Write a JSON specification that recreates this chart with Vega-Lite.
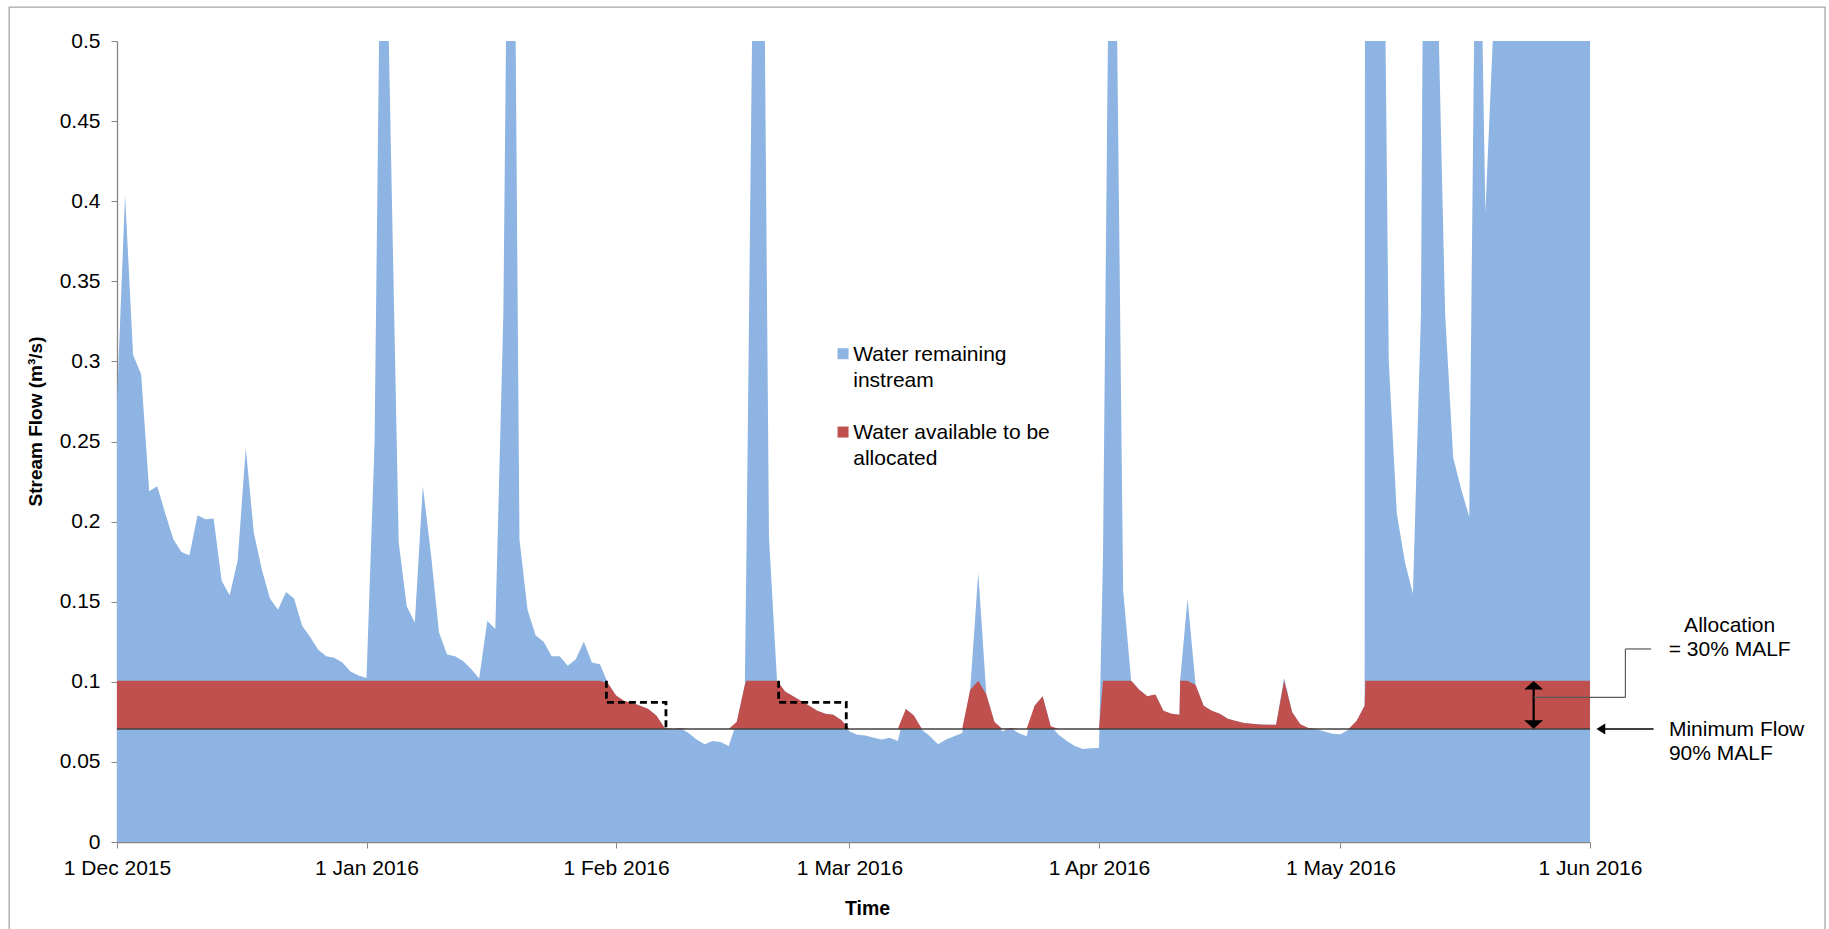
{
  "$schema": "https://vega.github.io/schema/vega-lite/v6.json",
  "width": 1473,
  "height": 801,
  "autosize": {"type": "none"},
  "padding": {"left": 117, "top": 41, "right": 239, "bottom": 87},
  "background": "white",
  "config": {
    "view": {"stroke": null},
    "font": "Liberation Sans",
    "axis": {"labelFont": "Liberation Sans", "titleFont": "Liberation Sans", "labelColor": "#000000", "titleColor": "#000000", "grid": false}
  },
  "data": {
    "values": [
      {"date": "2015-12-01T00:00", "flow": 0.275, "alloc": 0.1006},
      {"date": "2015-12-02T00:00", "flow": 0.404, "alloc": 0.1006},
      {"date": "2015-12-03T00:00", "flow": 0.304, "alloc": 0.1006},
      {"date": "2015-12-04T00:00", "flow": 0.292, "alloc": 0.1006},
      {"date": "2015-12-05T00:00", "flow": 0.219, "alloc": 0.1006},
      {"date": "2015-12-06T00:00", "flow": 0.222, "alloc": 0.1006},
      {"date": "2015-12-07T00:00", "flow": 0.205, "alloc": 0.1006},
      {"date": "2015-12-08T00:00", "flow": 0.189, "alloc": 0.1006},
      {"date": "2015-12-09T00:00", "flow": 0.181, "alloc": 0.1006},
      {"date": "2015-12-10T00:00", "flow": 0.179, "alloc": 0.1006},
      {"date": "2015-12-11T00:00", "flow": 0.204, "alloc": 0.1006},
      {"date": "2015-12-12T00:00", "flow": 0.2015, "alloc": 0.1006},
      {"date": "2015-12-13T00:00", "flow": 0.202, "alloc": 0.1006},
      {"date": "2015-12-14T00:00", "flow": 0.163, "alloc": 0.1006},
      {"date": "2015-12-15T00:00", "flow": 0.154, "alloc": 0.1006},
      {"date": "2015-12-16T00:00", "flow": 0.176, "alloc": 0.1006},
      {"date": "2015-12-17T00:00", "flow": 0.246, "alloc": 0.1006},
      {"date": "2015-12-18T00:00", "flow": 0.193, "alloc": 0.1006},
      {"date": "2015-12-19T00:00", "flow": 0.17, "alloc": 0.1006},
      {"date": "2015-12-20T00:00", "flow": 0.152, "alloc": 0.1006},
      {"date": "2015-12-21T00:00", "flow": 0.145, "alloc": 0.1006},
      {"date": "2015-12-22T00:00", "flow": 0.156, "alloc": 0.1006},
      {"date": "2015-12-23T00:00", "flow": 0.152, "alloc": 0.1006},
      {"date": "2015-12-24T00:00", "flow": 0.135, "alloc": 0.1006},
      {"date": "2015-12-25T00:00", "flow": 0.128, "alloc": 0.1006},
      {"date": "2015-12-26T00:00", "flow": 0.12, "alloc": 0.1006},
      {"date": "2015-12-27T00:00", "flow": 0.116, "alloc": 0.1006},
      {"date": "2015-12-28T00:00", "flow": 0.115, "alloc": 0.1006},
      {"date": "2015-12-29T00:00", "flow": 0.112, "alloc": 0.1006},
      {"date": "2015-12-30T00:00", "flow": 0.1065, "alloc": 0.1006},
      {"date": "2015-12-31T00:00", "flow": 0.104, "alloc": 0.1006},
      {"date": "2016-01-01T00:00", "flow": 0.1024, "alloc": 0.1006},
      {"date": "2016-01-02T00:00", "flow": 0.25, "alloc": 0.1006},
      {"date": "2016-01-03T00:00", "flow": 0.7, "alloc": 0.1006},
      {"date": "2016-01-04T00:00", "flow": 0.44, "alloc": 0.1006},
      {"date": "2016-01-05T00:00", "flow": 0.187, "alloc": 0.1006},
      {"date": "2016-01-06T00:00", "flow": 0.147, "alloc": 0.1006},
      {"date": "2016-01-07T00:00", "flow": 0.137, "alloc": 0.1006},
      {"date": "2016-01-08T00:00", "flow": 0.222, "alloc": 0.1006},
      {"date": "2016-01-09T00:00", "flow": 0.18, "alloc": 0.1006},
      {"date": "2016-01-10T00:00", "flow": 0.131, "alloc": 0.1006},
      {"date": "2016-01-11T00:00", "flow": 0.117, "alloc": 0.1006},
      {"date": "2016-01-12T00:00", "flow": 0.116, "alloc": 0.1006},
      {"date": "2016-01-13T00:00", "flow": 0.113, "alloc": 0.1006},
      {"date": "2016-01-14T00:00", "flow": 0.108, "alloc": 0.1006},
      {"date": "2016-01-15T00:00", "flow": 0.102, "alloc": 0.1006},
      {"date": "2016-01-16T00:00", "flow": 0.138, "alloc": 0.1006},
      {"date": "2016-01-17T00:00", "flow": 0.133, "alloc": 0.1006},
      {"date": "2016-01-18T00:00", "flow": 0.33, "alloc": 0.1006},
      {"date": "2016-01-19T00:00", "flow": 0.85, "alloc": 0.1006},
      {"date": "2016-01-20T00:00", "flow": 0.189, "alloc": 0.1006},
      {"date": "2016-01-21T00:00", "flow": 0.145, "alloc": 0.1006},
      {"date": "2016-01-22T00:00", "flow": 0.129, "alloc": 0.1006},
      {"date": "2016-01-23T00:00", "flow": 0.125, "alloc": 0.1006},
      {"date": "2016-01-24T00:00", "flow": 0.116, "alloc": 0.1006},
      {"date": "2016-01-25T00:00", "flow": 0.116, "alloc": 0.1006},
      {"date": "2016-01-26T00:00", "flow": 0.11, "alloc": 0.1006},
      {"date": "2016-01-27T00:00", "flow": 0.114, "alloc": 0.1006},
      {"date": "2016-01-28T00:00", "flow": 0.125, "alloc": 0.1006},
      {"date": "2016-01-29T00:00", "flow": 0.112, "alloc": 0.1006},
      {"date": "2016-01-30T00:00", "flow": 0.111, "alloc": 0.1006},
      {"date": "2016-01-31T00:00", "flow": 0.099, "alloc": 0.099},
      {"date": "2016-02-01T00:00", "flow": 0.0915, "alloc": 0.0915},
      {"date": "2016-02-02T00:00", "flow": 0.088, "alloc": 0.088},
      {"date": "2016-02-03T00:00", "flow": 0.087, "alloc": 0.087},
      {"date": "2016-02-04T00:00", "flow": 0.085, "alloc": 0.085},
      {"date": "2016-02-05T00:00", "flow": 0.083, "alloc": 0.083},
      {"date": "2016-02-06T00:00", "flow": 0.079, "alloc": 0.079},
      {"date": "2016-02-07T00:00", "flow": 0.0715, "alloc": 0.0715},
      {"date": "2016-02-08T00:00", "flow": 0.0705, "alloc": 0.0706},
      {"date": "2016-02-09T00:00", "flow": 0.0712, "alloc": 0.0712},
      {"date": "2016-02-10T00:00", "flow": 0.068, "alloc": 0.0706},
      {"date": "2016-02-11T00:00", "flow": 0.064, "alloc": 0.0706},
      {"date": "2016-02-12T00:00", "flow": 0.061, "alloc": 0.0706},
      {"date": "2016-02-13T00:00", "flow": 0.063, "alloc": 0.0706},
      {"date": "2016-02-14T00:00", "flow": 0.0625, "alloc": 0.0706},
      {"date": "2016-02-15T00:00", "flow": 0.06, "alloc": 0.0706},
      {"date": "2016-02-16T00:00", "flow": 0.075, "alloc": 0.075},
      {"date": "2016-02-17T00:00", "flow": 0.098, "alloc": 0.098},
      {"date": "2016-02-17T04:48", "flow": 0.18, "alloc": 0.1006},
      {"date": "2016-02-18T00:00", "flow": 0.55, "alloc": 0.1006},
      {"date": "2016-02-19T00:00", "flow": 0.8, "alloc": 0.1006},
      {"date": "2016-02-20T00:00", "flow": 0.19, "alloc": 0.1006},
      {"date": "2016-02-21T00:00", "flow": 0.1006, "alloc": 0.1006},
      {"date": "2016-02-22T00:00", "flow": 0.094, "alloc": 0.094},
      {"date": "2016-02-23T00:00", "flow": 0.091, "alloc": 0.091},
      {"date": "2016-02-24T00:00", "flow": 0.088, "alloc": 0.088},
      {"date": "2016-02-25T00:00", "flow": 0.085, "alloc": 0.085},
      {"date": "2016-02-26T00:00", "flow": 0.082, "alloc": 0.082},
      {"date": "2016-02-27T00:00", "flow": 0.08, "alloc": 0.08},
      {"date": "2016-02-28T00:00", "flow": 0.0795, "alloc": 0.0795},
      {"date": "2016-02-29T00:00", "flow": 0.076, "alloc": 0.076},
      {"date": "2016-03-01T00:00", "flow": 0.069, "alloc": 0.0706},
      {"date": "2016-03-02T00:00", "flow": 0.067, "alloc": 0.0706},
      {"date": "2016-03-03T00:00", "flow": 0.0665, "alloc": 0.0706},
      {"date": "2016-03-04T00:00", "flow": 0.065, "alloc": 0.0706},
      {"date": "2016-03-05T00:00", "flow": 0.064, "alloc": 0.0706},
      {"date": "2016-03-06T00:00", "flow": 0.065, "alloc": 0.0706},
      {"date": "2016-03-07T00:00", "flow": 0.063, "alloc": 0.0706},
      {"date": "2016-03-08T00:00", "flow": 0.083, "alloc": 0.083},
      {"date": "2016-03-09T00:00", "flow": 0.079, "alloc": 0.079},
      {"date": "2016-03-10T00:00", "flow": 0.07, "alloc": 0.0706},
      {"date": "2016-03-11T00:00", "flow": 0.066, "alloc": 0.0706},
      {"date": "2016-03-12T00:00", "flow": 0.061, "alloc": 0.0706},
      {"date": "2016-03-13T00:00", "flow": 0.064, "alloc": 0.0706},
      {"date": "2016-03-14T00:00", "flow": 0.066, "alloc": 0.0706},
      {"date": "2016-03-15T00:00", "flow": 0.068, "alloc": 0.0706},
      {"date": "2016-03-16T00:00", "flow": 0.095, "alloc": 0.095},
      {"date": "2016-03-17T00:00", "flow": 0.168, "alloc": 0.1006},
      {"date": "2016-03-18T00:00", "flow": 0.092, "alloc": 0.092},
      {"date": "2016-03-19T00:00", "flow": 0.075, "alloc": 0.075},
      {"date": "2016-03-20T00:00", "flow": 0.069, "alloc": 0.0706},
      {"date": "2016-03-21T00:00", "flow": 0.0712, "alloc": 0.0712},
      {"date": "2016-03-22T00:00", "flow": 0.068, "alloc": 0.0706},
      {"date": "2016-03-23T00:00", "flow": 0.066, "alloc": 0.0706},
      {"date": "2016-03-24T00:00", "flow": 0.085, "alloc": 0.085},
      {"date": "2016-03-25T00:00", "flow": 0.091, "alloc": 0.091},
      {"date": "2016-03-26T00:00", "flow": 0.0722, "alloc": 0.0722},
      {"date": "2016-03-27T00:00", "flow": 0.067, "alloc": 0.0706},
      {"date": "2016-03-28T00:00", "flow": 0.063, "alloc": 0.0706},
      {"date": "2016-03-29T00:00", "flow": 0.06, "alloc": 0.0706},
      {"date": "2016-03-30T00:00", "flow": 0.058, "alloc": 0.0706},
      {"date": "2016-03-31T00:00", "flow": 0.0585, "alloc": 0.0706},
      {"date": "2016-04-01T00:00", "flow": 0.0587, "alloc": 0.0706},
      {"date": "2016-04-01T12:00", "flow": 0.18, "alloc": 0.1006},
      {"date": "2016-04-02T04:48", "flow": 0.55, "alloc": 0.1006},
      {"date": "2016-04-03T00:00", "flow": 0.62, "alloc": 0.1006},
      {"date": "2016-04-04T00:00", "flow": 0.157, "alloc": 0.1006},
      {"date": "2016-04-05T00:00", "flow": 0.1006, "alloc": 0.1006},
      {"date": "2016-04-06T00:00", "flow": 0.095, "alloc": 0.095},
      {"date": "2016-04-07T00:00", "flow": 0.091, "alloc": 0.091},
      {"date": "2016-04-08T00:00", "flow": 0.092, "alloc": 0.092},
      {"date": "2016-04-09T00:00", "flow": 0.082, "alloc": 0.082},
      {"date": "2016-04-10T00:00", "flow": 0.08, "alloc": 0.08},
      {"date": "2016-04-11T00:00", "flow": 0.0795, "alloc": 0.0795},
      {"date": "2016-04-11T02:00", "flow": 0.101, "alloc": 0.1006},
      {"date": "2016-04-12T00:00", "flow": 0.152, "alloc": 0.1006},
      {"date": "2016-04-13T00:00", "flow": 0.098, "alloc": 0.098},
      {"date": "2016-04-14T00:00", "flow": 0.085, "alloc": 0.085},
      {"date": "2016-04-15T00:00", "flow": 0.082, "alloc": 0.082},
      {"date": "2016-04-16T00:00", "flow": 0.08, "alloc": 0.08},
      {"date": "2016-04-17T00:00", "flow": 0.077, "alloc": 0.077},
      {"date": "2016-04-18T00:00", "flow": 0.0755, "alloc": 0.0755},
      {"date": "2016-04-19T00:00", "flow": 0.0743, "alloc": 0.0743},
      {"date": "2016-04-20T00:00", "flow": 0.0738, "alloc": 0.0738},
      {"date": "2016-04-21T00:00", "flow": 0.0733, "alloc": 0.0733},
      {"date": "2016-04-22T00:00", "flow": 0.0732, "alloc": 0.0732},
      {"date": "2016-04-23T00:00", "flow": 0.0732, "alloc": 0.0732},
      {"date": "2016-04-24T00:00", "flow": 0.1025, "alloc": 0.1006},
      {"date": "2016-04-25T00:00", "flow": 0.081, "alloc": 0.081},
      {"date": "2016-04-26T00:00", "flow": 0.0735, "alloc": 0.0735},
      {"date": "2016-04-27T00:00", "flow": 0.0712, "alloc": 0.0712},
      {"date": "2016-04-28T00:00", "flow": 0.0704, "alloc": 0.0706},
      {"date": "2016-04-29T00:00", "flow": 0.069, "alloc": 0.0706},
      {"date": "2016-04-30T00:00", "flow": 0.0675, "alloc": 0.0706},
      {"date": "2016-05-01T00:00", "flow": 0.0672, "alloc": 0.0706},
      {"date": "2016-05-02T00:00", "flow": 0.07, "alloc": 0.0706},
      {"date": "2016-05-03T00:00", "flow": 0.0755, "alloc": 0.0755},
      {"date": "2016-05-04T00:00", "flow": 0.085, "alloc": 0.085},
      {"date": "2016-05-04T02:24", "flow": 1.2, "alloc": 0.1006},
      {"date": "2016-05-05T00:00", "flow": 1.5, "alloc": 0.1006},
      {"date": "2016-05-06T00:00", "flow": 0.8, "alloc": 0.1006},
      {"date": "2016-05-07T00:00", "flow": 0.3, "alloc": 0.1006},
      {"date": "2016-05-08T00:00", "flow": 0.205, "alloc": 0.1006},
      {"date": "2016-05-09T00:00", "flow": 0.175, "alloc": 0.1006},
      {"date": "2016-05-10T00:00", "flow": 0.155, "alloc": 0.1006},
      {"date": "2016-05-11T00:00", "flow": 0.33, "alloc": 0.1006},
      {"date": "2016-05-12T00:00", "flow": 1.2, "alloc": 0.1006},
      {"date": "2016-05-13T00:00", "flow": 0.55, "alloc": 0.1006},
      {"date": "2016-05-14T00:00", "flow": 0.33, "alloc": 0.1006},
      {"date": "2016-05-15T00:00", "flow": 0.24, "alloc": 0.1006},
      {"date": "2016-05-16T00:00", "flow": 0.22, "alloc": 0.1006},
      {"date": "2016-05-17T00:00", "flow": 0.203, "alloc": 0.1006},
      {"date": "2016-05-18T00:00", "flow": 0.7, "alloc": 0.1006},
      {"date": "2016-05-19T00:00", "flow": 0.393, "alloc": 0.1006},
      {"date": "2016-05-20T00:00", "flow": 0.51, "alloc": 0.1006},
      {"date": "2016-05-21T00:00", "flow": 0.9, "alloc": 0.1006},
      {"date": "2016-05-22T00:00", "flow": 1.3, "alloc": 0.1006},
      {"date": "2016-05-23T00:00", "flow": 1.1, "alloc": 0.1006},
      {"date": "2016-05-24T00:00", "flow": 0.95, "alloc": 0.1006},
      {"date": "2016-05-25T00:00", "flow": 0.85, "alloc": 0.1006},
      {"date": "2016-05-26T00:00", "flow": 0.8, "alloc": 0.1006},
      {"date": "2016-05-27T00:00", "flow": 1.0, "alloc": 0.1006},
      {"date": "2016-05-28T00:00", "flow": 1.4, "alloc": 0.1006},
      {"date": "2016-05-29T00:00", "flow": 1.2, "alloc": 0.1006},
      {"date": "2016-05-30T00:00", "flow": 1.0, "alloc": 0.1006},
      {"date": "2016-05-31T00:00", "flow": 0.9, "alloc": 0.1006},
      {"date": "2016-06-01T00:00", "flow": 0.85, "alloc": 0.1006}
    ]
  },
  "layer": [
    {
      "data": {"values": [{}]},
      "mark": {"type": "rect", "filled": false, "stroke": "#a6a6a6", "strokeWidth": 1.3},
      "encoding": {
        "x": {"datum": {"year": 2015, "month": 11, "date": 17, "hours": 14, "minutes": 24}, "type": "temporal"},
        "x2": {"datum": {"year": 2016, "month": 6, "date": 30, "hours": 4, "minutes": 48}},
        "y": {"datum": 0.5212, "type": "quantitative"},
        "y2": {"datum": -0.15}
      }
    },
    {
      "mark": {"type": "area", "clip": true, "color": "#8DB4E2", "opacity": 1, "interpolate": "linear"},
      "encoding": {
        "x": {
          "field": "date", "type": "temporal",
          "scale": {"domain": [{"year": 2015, "month": 12, "date": 1}, {"year": 2016, "month": 6, "date": 1}], "nice": false},
          "axis": {
            "values": [
              {"year": 2015, "month": 12, "date": 1},
              {"year": 2016, "month": 1, "date": 1},
              {"year": 2016, "month": 2, "date": 1},
              {"year": 2016, "month": 3, "date": 1},
              {"year": 2016, "month": 4, "date": 1},
              {"year": 2016, "month": 5, "date": 1},
              {"year": 2016, "month": 6, "date": 1}
            ],
            "format": "%-d %b %Y",
            "labelFontSize": 21,
            "labelPadding": 9,
            "labelFlush": false,
            "labelOverlap": false,
            "tickSize": 6,
            "tickColor": "#868686",
            "domainColor": "#868686",
            "domainWidth": 1.3,
            "title": "Time",
            "titleFontSize": 19.5,
            "titleFontWeight": "bold",
            "titleX": 750,
            "titleY": 72,
            "titleAlign": "center",
            "titleBaseline": "alphabetic"
          }
        },
        "y": {
          "field": "flow", "type": "quantitative",
          "scale": {"domain": [0, 0.5], "nice": false, "zero": true},
          "axis": {
            "values": [0, 0.05, 0.1, 0.15, 0.2, 0.25, 0.3, 0.35, 0.4, 0.45, 0.5],
            "format": ".2~f",
            "labelFontSize": 21,
            "labelPadding": 11,
            "tickSize": 6,
            "tickColor": "#868686",
            "domainColor": "#868686",
            "domainWidth": 1.3,
            "title": "Stream Flow (m³/s)",
            "titleFontSize": 19,
            "titleFontWeight": "bold",
            "titleAngle": -90,
            "titleX": -82,
            "titleY": 380,
            "titleAlign": "center",
            "titleBaseline": "middle"
          }
        }
      }
    },
    {
      "mark": {"type": "area", "clip": true, "color": "#C0504D", "opacity": 1, "interpolate": "linear"},
      "encoding": {
        "x": {"field": "date", "type": "temporal"},
        "y": {"field": "alloc", "type": "quantitative"},
        "y2": {"datum": 0.0706}
      }
    },
    {
      "data": {"values": [{}]},
      "mark": {"type": "rule", "color": "#404040", "strokeWidth": 1.5},
      "encoding": {"y": {"datum": 0.0706, "type": "quantitative"}}
    },
    {
      "data": {
        "values": [
          {"date": "2016-01-30T19:12", "v": 0.1006, "box": "a", "seq": 1},
          {"date": "2016-01-30T19:12", "v": 0.0872, "box": "a", "seq": 2},
          {"date": "2016-02-07T04:48", "v": 0.0872, "box": "a", "seq": 3},
          {"date": "2016-02-07T04:48", "v": 0.0706, "box": "a", "seq": 4},
          {"date": "2016-02-21T04:48", "v": 0.1006, "box": "b", "seq": 1},
          {"date": "2016-02-21T04:48", "v": 0.0872, "box": "b", "seq": 2},
          {"date": "2016-02-29T14:24", "v": 0.0872, "box": "b", "seq": 3},
          {"date": "2016-02-29T14:24", "v": 0.0706, "box": "b", "seq": 4}
        ]
      },
      "mark": {"type": "line", "color": "#000000", "strokeWidth": 2.8, "strokeDash": [7, 4]},
      "encoding": {
        "x": {"field": "date", "type": "temporal"},
        "y": {"field": "v", "type": "quantitative"},
        "detail": {"field": "box"},
        "order": {"field": "seq"}
      }
    },
    {
      "data": {"values": [{}]},
      "mark": {"type": "rule", "color": "#000000", "strokeWidth": 2.2},
      "encoding": {
        "x": {"datum": {"year": 2016, "month": 5, "date": 25}, "type": "temporal"},
        "y": {"datum": 0.0733, "type": "quantitative"},
        "y2": {"datum": 0.0979}
      }
    },
    {
      "data": {"values": [{}]},
      "mark": {"type": "point", "shape": "M0,-0.45L1,0.45L-1,0.45Z", "filled": true, "size": 361, "color": "#000000", "opacity": 1},
      "encoding": {
        "x": {"datum": {"year": 2016, "month": 5, "date": 25}, "type": "temporal"},
        "y": {"datum": 0.0979, "type": "quantitative"}
      }
    },
    {
      "data": {"values": [{}]},
      "mark": {"type": "point", "shape": "M0,0.45L1,-0.45L-1,-0.45Z", "filled": true, "size": 361, "color": "#000000", "opacity": 1},
      "encoding": {
        "x": {"datum": {"year": 2016, "month": 5, "date": 25}, "type": "temporal"},
        "y": {"datum": 0.0733, "type": "quantitative"}
      }
    },
    {
      "data": {"values": [{}]},
      "mark": {"type": "rule", "color": "#595959", "strokeWidth": 1.2},
      "encoding": {
        "x": {"datum": {"year": 2016, "month": 5, "date": 25}, "type": "temporal"},
        "x2": {"datum": {"year": 2016, "month": 6, "date": 5, "hours": 9, "minutes": 36}},
        "y": {"datum": 0.0903, "type": "quantitative"}
      }
    },
    {
      "data": {"values": [{}]},
      "mark": {"type": "rule", "color": "#595959", "strokeWidth": 1.2},
      "encoding": {
        "x": {"datum": {"year": 2016, "month": 6, "date": 5, "hours": 9, "minutes": 36}, "type": "temporal"},
        "y": {"datum": 0.0903, "type": "quantitative"},
        "y2": {"datum": 0.1205}
      }
    },
    {
      "data": {"values": [{}]},
      "mark": {"type": "rule", "color": "#595959", "strokeWidth": 1.2},
      "encoding": {
        "x": {"datum": {"year": 2016, "month": 6, "date": 5, "hours": 9, "minutes": 36}, "type": "temporal"},
        "x2": {"datum": {"year": 2016, "month": 6, "date": 8, "hours": 14, "minutes": 24}},
        "y": {"datum": 0.1205, "type": "quantitative"}
      }
    },
    {
      "data": {"values": [{}]},
      "mark": {"type": "rule", "color": "#000000", "strokeWidth": 1.5},
      "encoding": {
        "x": {"datum": {"year": 2016, "month": 6, "date": 2, "hours": 8, "minutes": 24}, "type": "temporal"},
        "x2": {"datum": {"year": 2016, "month": 6, "date": 8, "hours": 21, "minutes": 36}},
        "y": {"datum": 0.0706, "type": "quantitative"}
      }
    },
    {
      "data": {"values": [{}]},
      "mark": {"type": "point", "shape": "M-0.8,0L0.8,-1L0.8,1Z", "filled": true, "size": 121, "color": "#000000", "opacity": 1},
      "encoding": {
        "x": {"datum": {"year": 2016, "month": 6, "date": 2, "hours": 8, "minutes": 24}, "type": "temporal"},
        "y": {"datum": 0.0706, "type": "quantitative"}
      }
    },
    {
      "data": {"values": [{}]},
      "mark": {"type": "text", "text": ["Allocation", "= 30% MALF"], "align": "center", "baseline": "alphabetic", "fontSize": 21, "lineHeight": 24, "color": "#000000", "font": "Liberation Sans"},
      "encoding": {
        "x": {"datum": {"year": 2016, "month": 6, "date": 18, "hours": 8, "minutes": 24}, "type": "temporal"},
        "y": {"datum": 0.1308, "type": "quantitative"}
      }
    },
    {
      "data": {"values": [{}]},
      "mark": {"type": "text", "text": ["Minimum Flow", "90% MALF"], "align": "left", "baseline": "alphabetic", "fontSize": 21, "lineHeight": 24, "color": "#000000", "font": "Liberation Sans"},
      "encoding": {
        "x": {"datum": {"year": 2016, "month": 6, "date": 10, "hours": 19, "minutes": 12}, "type": "temporal"},
        "y": {"datum": 0.0659, "type": "quantitative"}
      }
    },
    {
      "data": {"values": [{}]},
      "mark": {"type": "square", "size": 121, "color": "#8DB4E2", "opacity": 1},
      "encoding": {
        "x": {"datum": {"year": 2016, "month": 2, "date": 29, "hours": 4, "minutes": 48}, "type": "temporal"},
        "y": {"datum": 0.3048, "type": "quantitative"}
      }
    },
    {
      "data": {"values": [{}]},
      "mark": {"type": "square", "size": 121, "color": "#C0504D", "opacity": 1},
      "encoding": {
        "x": {"datum": {"year": 2016, "month": 2, "date": 29, "hours": 4, "minutes": 48}, "type": "temporal"},
        "y": {"datum": 0.2559, "type": "quantitative"}
      }
    },
    {
      "data": {"values": [{}]},
      "mark": {"type": "text", "text": ["Water remaining", "instream"], "align": "left", "baseline": "alphabetic", "fontSize": 21, "lineHeight": 25.6, "color": "#000000", "font": "Liberation Sans"},
      "encoding": {
        "x": {"datum": {"year": 2016, "month": 3, "date": 1, "hours": 11, "minutes": 17}, "type": "temporal"},
        "y": {"datum": 0.3, "type": "quantitative"}
      }
    },
    {
      "data": {"values": [{}]},
      "mark": {"type": "text", "text": ["Water available to be", "allocated"], "align": "left", "baseline": "alphabetic", "fontSize": 21, "lineHeight": 25.6, "color": "#000000", "font": "Liberation Sans"},
      "encoding": {
        "x": {"datum": {"year": 2016, "month": 3, "date": 1, "hours": 11, "minutes": 17}, "type": "temporal"},
        "y": {"datum": 0.2516, "type": "quantitative"}
      }
    }
  ]
}
